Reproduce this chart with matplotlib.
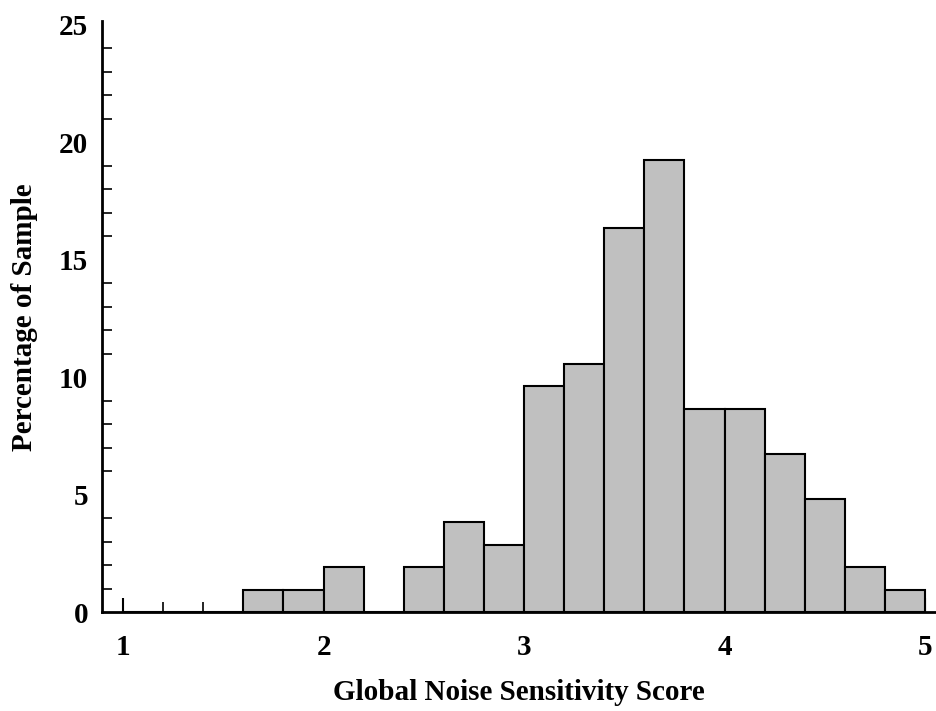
import numpy as np
import matplotlib.pyplot as plt
from matplotlib.ticker import MultipleLocator

# histogram bins (left edges, width 0.2) and percentage of sample in each
bin_left = np.round(np.arange(1.0, 5.0, 0.2), 1)
pct = [0.0, 0.0, 0.0, 0.96, 0.96, 1.92, 0.0, 1.92, 3.85, 2.88,
       9.62, 10.58, 16.35, 19.23, 8.65, 8.65, 6.73, 4.81, 1.92, 0.96]
bin_width = 0.2

x_ticks = [1, 2, 3, 4, 5]
y_ticks = [0, 5, 10, 15, 20, 25]

plt.rcParams['font.family'] = ['Liberation Serif', 'DejaVu Serif']
plt.rcParams['font.weight'] = 'bold'

fig = plt.figure(figsize=(9.36, 7.11), dpi=100)
ax = fig.add_axes([0.109, 0.139, 0.890, 0.831])

ax.bar(bin_left, pct, width=bin_width, align='edge',
       color='#c0c0c0', edgecolor='black', linewidth=1.5, zorder=3)

ax.set_xlim(0.895, 5.05)
ax.set_ylim(0, 25.15)

ax.set_xticks(x_ticks)
ax.set_yticks(y_ticks)
ax.xaxis.set_minor_locator(MultipleLocator(0.2))
ax.yaxis.set_minor_locator(MultipleLocator(1))
ax.tick_params(axis='x', which='major', direction='in', length=10, width=1.5,
               labelsize=21, pad=16)
ax.tick_params(axis='x', which='minor', direction='in', length=7, width=1.2)
ax.tick_params(axis='y', which='major', direction='in', length=0,
               labelsize=21, pad=10)
ax.tick_params(axis='y', which='minor', direction='in', length=7, width=1.2)
for lbl in ax.get_xticklabels() + ax.get_yticklabels():
    lbl.set_fontweight('bold')

for side in ['top', 'right']:
    ax.spines[side].set_visible(False)
for side in ['left', 'bottom']:
    ax.spines[side].set_linewidth(2)
    ax.spines[side].set_zorder(4)

ax.set_xlabel('Global Noise Sensitivity Score', fontsize=21,
              fontweight='bold', labelpad=13)
ax.set_ylabel('Percentage of Sample', fontsize=21, fontweight='bold',
              labelpad=15)

fig.savefig('out.png', dpi=100)
plt.close(fig)
